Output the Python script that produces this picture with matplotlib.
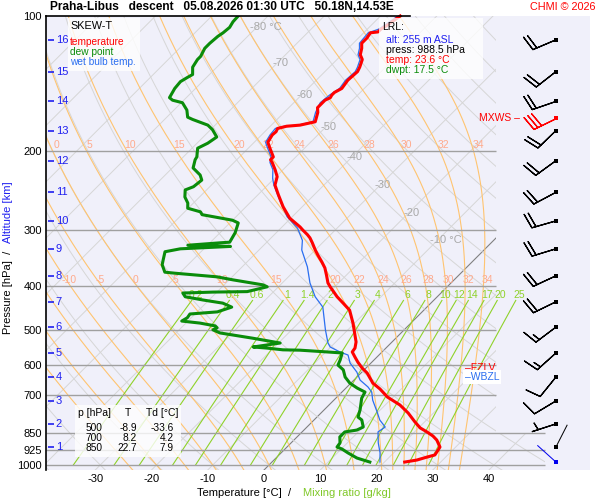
import numpy as np
import matplotlib

matplotlib.use("Agg")
import matplotlib.pyplot as plt
from matplotlib.patches import Polygon, Rectangle
from matplotlib.ticker import NullLocator

plt.rcParams["font.family"] = ["Liberation Sans", "DejaVu Sans"]

# ---------------------------------------------------------------- data
TEMP_P = [985, 975, 960, 950, 926, 912, 880, 862, 844, 827, 802, 766, 735, 706,
          677, 657, 624, 608, 590, 575, 560, 549, 532, 500, 483, 452, 436, 422,
          401, 393, 378, 364, 353, 341, 332, 320, 312, 307, 300, 295, 282, 266,
          250, 238, 228, 220, 212, 209, 206, 196, 191, 184, 181, 178, 176, 175,
          172, 164, 160, 156, 154, 152, 150, 148, 145, 139, 133, 130, 125, 122,
          118, 115, 112, 109, 108.5, 107, 105, 100]
TEMP_T = [23.6, 25.4, 26.7, 27.7, 27.4, 27.2, 25.4, 24.0, 22.2, 20.3, 18.3, 15.5,
          12.6, 9.0, 6.2, 3.9, 1.1, -0.7, -2.5, -3.9, -5.3, -5.5, -6.4, -8.9,
          -10.3, -13.2, -15.6, -17.8, -20.8, -21.9, -23.5, -25.1, -26.7, -28.6,
          -30.0, -31.8, -33.1, -34.1, -35.7, -36.8, -40.2, -43.4, -46.4, -48.7,
          -49.8, -51.4, -53.2, -54.0, -54.0, -56.4, -57.6, -58.1, -58.0, -58.3,
          -57.1, -54.9, -52.8, -54.0, -54.9, -54.9, -54.9, -54.4, -54.6, -54.6,
          -54.0, -54.4, -54.2, -54.6, -55.5, -56.7, -57.6, -58.5, -58.5, -58.8,
          -57.6, -57.6, -57.2, -56.5]

DEW_P = [985, 965, 940, 921, 912, 893, 866, 844, 836, 823, 794, 782, 754, 710,
         688, 674, 657, 637, 614, 599, 584, 563, 560, 555, 554, 549, 546, 535,
         522, 508, 500, 495, 490, 483, 478, 470, 461, 456, 445, 436, 429, 422,
         414, 412, 411, 401, 397, 387, 381, 374, 372, 358, 349, 335, 330, 327,
         326, 324, 320, 319, 304, 289, 285, 277, 273, 268, 261, 253, 244, 240,
         232, 226, 218, 209, 206, 197, 192, 186, 179, 175, 170, 168, 162, 156,
         154, 152, 145, 140, 137, 135, 130, 125, 123, 118, 115, 111, 109, 106,
         103, 100]
DEW_T = [17.4, 14.4, 11.9, 10.1, 8.9, 8.7, 7.6, 7.6, 9.4, 10.0, 8.5, 7.3, 6.4,
         4.6, 4.1, 2.0, -0.2, -2.1, -3.7, -5.5, -6.0, -6.9, -9.8, -14.9, -18.0,
         -21.2, -23.8, -19.7, -25.4, -32.2, -34.0, -33.6, -34.3, -37.5, -41.1,
         -40.7, -40.9, -36.4, -34.7, -37.0, -41.1, -44.8, -45.9, -40.7, -34.7,
         -32.0, -33.1, -39.3, -42.7, -50.8, -52.8, -54.6, -55.3, -56.4, -54.2,
         -47.8, -45.7, -53.5, -48.2, -46.6, -47.3, -48.5, -50.0, -56.4, -57.2,
         -60.1, -61.0, -62.6, -63.8, -62.9, -62.6, -63.8, -66.3, -67.4, -67.6,
         -69.0, -68.1, -67.6, -69.7, -71.3, -75.0, -76.3, -77.7, -79.8, -82.0,
         -83.0, -83.7, -83.9, -83.4, -83.0, -84.3, -84.8, -84.8, -85.5, -85.5,
         -85.3, -85.0, -84.8, -85.2, -85.3]

WB_P = [985, 940, 893, 844, 823, 794, 762, 717, 688, 670, 647, 621, 593, 569,
        560, 546, 535, 500, 445, 422, 393, 362, 332, 316, 297, 280, 257, 238,
        230, 220, 212, 206, 196, 191, 184, 178, 176, 175, 172, 164, 156, 150,
        145, 139, 133, 130, 125, 122, 118, 115, 109, 107, 100]
WB_T = [19.2, 17.6, 15.5, 13.5, 13.9, 11.7, 9.8, 6.9, 5.3, 3.7, 1.1, -0.9, -3.7,
        -5.5, -7.5, -10.1, -11.2, -14.0, -18.5, -21.7, -25.1, -28.4, -32.4,
        -34.0, -37.0, -40.9, -45.2, -48.9, -50.3, -51.8, -53.6, -54.4, -56.8,
        -58.0, -58.5, -58.7, -57.5, -55.3, -53.2, -54.4, -55.3, -55.0, -54.4,
        -54.8, -54.6, -55.0, -55.9, -57.1, -58.0, -58.9, -59.2, -58.0, -56.9]

ALT_KM = list(range(1, 17))
ALT_P = [912, 810, 720, 637, 563, 493, 433, 379, 330, 286, 247, 210, 180, 155,
         133, 113]

WIND_P = [113, 133, 155, 180, 210, 247, 286, 330, 379, 433, 493, 563, 637, 720, 810]
WIND_DIR = [247, 232, 251, 226, 234, 242, 254, 253, 245, 244, 233, 228, 219, 239, 252]
WIND_KT = [20, 20, 20, 20, 20, 20, 20, 20, 20, 20, 15, 15, 10, 10, 5]
MXWS_P, MXWS_DIR, MXWS_KT = [169], [244], [30]
CALM_P, CALM_DIR = [912], [27]
SFC_P, SFC_DIR = [985], [312]

TABLE_P = [500, 700, 850]
TABLE_T = [-8.9, 8.2, 22.7]
TABLE_TD = [-33.6, 4.2, 7.9]

PRESS_TICKS = [100, 200, 300, 400, 500, 600, 700, 850, 925, 1000]
TEMP_TICKS = [-30, -20, -10, 0, 10, 20, 30, 40]
ISO_LABELS = [-80, -70, -60, -50, -40, -30, -20, -10]
ISO_LABEL_P = [105.8, 127, 150, 177, 206, 238, 274, 316]
MOIST_TW = [-25, -20, -15, -10, -5, 0, 5, 10, 15, 20, 22, 24, 26, 28, 30, 32, 34]
MIX_W = [0.2, 0.4, 0.6, 1, 1.4, 2, 3, 4, 6, 8, 10, 12, 14, 17, 20, 25]

FZLV_P, WBZL_P = 608, 637

# ---------------------------------------------------------------- geometry
P_BOT = 1026.0
SKEW = 449 / 5.625          # 45 degree isotherms
X_LEFT, X_RIGHT = -218 / 5.625, 326 / 5.625
X_CLIP_HI, X_CLIP_LO = 41.24, 50.0
BARB_X = 51.9

RD, CP, LV, EPS = 287.04, 1005.7, 2.501e6, 0.622


def skew_x(t, p):
    return np.asarray(t, float) + SKEW * np.log10(P_BOT / np.asarray(p, float))


def sat_vp(tk):
    tc = tk - 273.15
    return 6.112 * np.exp(17.67 * tc / (tc + 243.5))


def moist_lapse(tk, p):
    e = sat_vp(tk)
    rs = EPS * e / (p - e)
    return (RD * tk + LV * rs) / (CP + LV ** 2 * rs * EPS / (RD * tk ** 2))


def moist_adiabats(tw, pres):
    t = np.asarray(tw, float) + 273.15
    out = [t.copy()]
    lnp = np.log(pres)
    for i in range(1, len(pres)):
        h = lnp[i] - lnp[i - 1]
        k1 = moist_lapse(t, pres[i - 1])
        k2 = moist_lapse(t + h * k1, pres[i])
        t = t + 0.5 * h * (k1 + k2)
        out.append(t.copy())
    return np.array(out).T - 273.15


def mixing_td(w, p):
    e = w * p / (622.0 + w)
    lg = np.log(e / 6.112)
    return 243.5 * lg / (17.67 - lg)


def fig_text(x, y, s, **kw):
    return fig.text(x / 600, 1 - y / 500, s, **kw)


# ---------------------------------------------------------------- figure
fig = plt.figure(figsize=(6, 5), dpi=100)
fig.patch.set_facecolor("white")
ax = fig.add_axes([46 / 600, 30 / 500, 544 / 600, 454 / 500])
ax.set_facecolor("#f0f0fa")
ax.set_yscale("log")
ax.set_xlim(X_LEFT, X_RIGHT)
ax.set_ylim(P_BOT, 100)

clip = Polygon([(X_LEFT, P_BOT), (X_CLIP_LO, P_BOT), (X_CLIP_LO, 850),
                (X_CLIP_HI, 850), (X_CLIP_HI, 100), (X_LEFT, 100)],
               closed=True, transform=ax.transData)

p_line = np.geomspace(100, P_BOT, 200)

# isotherms
for t in range(-120, 60, 10):
    ln, = ax.plot(skew_x(t, p_line), p_line,
                  color="#808080" if t == 0 else "#d6d6d6",
                  lw=0.8 if t == 0 else 0.7, zorder=1)
    ln.set_clip_path(clip)

# dry adiabats
for theta in range(-40, 220, 10):
    tk = (theta + 273.15) * (p_line / 1000.0) ** (RD / CP) - 273.15
    ln, = ax.plot(skew_x(tk, p_line), p_line, color="#d6d6d6", lw=0.7, zorder=1)
    ln.set_clip_path(clip)

# moist adiabats
p_up = np.geomspace(1000, 100, 400)
p_dn = np.geomspace(1000, P_BOT, 10)
t_up = moist_adiabats(MOIST_TW, p_up)
t_dn = moist_adiabats(MOIST_TW, p_dn)
for i, tw in enumerate(MOIST_TW):
    pp = np.concatenate([p_dn[::-1], p_up[1:]])
    tt = np.concatenate([t_dn[i][::-1], t_up[i][1:]])
    xx = skew_x(tt, pp)
    ln, = ax.plot(xx, pp, color="#ffc470", lw=0.8, zorder=1.5)
    ln.set_clip_path(clip)
    if tw >= -10:
        for plab, dx in ((387, 0.6), (194, 1.1)):
            xl = np.interp(np.log(plab), np.log(pp[::-1]), xx[::-1]) + dx
            if X_LEFT + 1.5 < xl < X_CLIP_HI:
                ax.text(xl, plab, f"{tw}", color="#ffaa8c", fontsize=7.5,
                        ha="center", va="center", zorder=2)

# mixing ratio lines
p_mix = np.geomspace(430, 1000, 50)
for w in MIX_W:
    ax.plot(skew_x(mixing_td(w, p_mix), p_mix), p_mix, color="#8fd22a",
            lw=0.8, zorder=1.6)
    xl = skew_x(mixing_td(w, 418.0), 418.0)
    ax.text(xl, 418, f"{w:g}", color="#8fd22a", fontsize=7.5,
            ha="center", va="center", zorder=2)

# isobars
ax.hlines([200, 300, 400, 500, 600, 700], X_LEFT, X_CLIP_HI, color="#a0a0a0",
          lw=1, zorder=1.8)
ax.hlines([850, 925, 1000], X_LEFT, X_CLIP_LO, color="#a0a0a0", lw=1, zorder=1.8)

# isotherm labels
for t, p in zip(ISO_LABELS, ISO_LABEL_P):
    xl = skew_x(t, p)
    if t in (-80, -10):
        ax.annotate(f"{t} °C", (xl, p), xytext=(-5, 0), textcoords="offset points",
                    color="#a8a8a8", fontsize=8, ha="left", va="center", zorder=2)
    else:
        ax.text(xl + 0.5, p, f"{t}", color="#a8a8a8", fontsize=8,
                ha="center", va="center", zorder=2)

# profiles
ax.plot(skew_x(WB_T, WB_P), WB_P, color="#2a6ef0", lw=0.9, zorder=3)
ax.plot(skew_x(DEW_T, DEW_P), DEW_P, color="#0a8c0a", lw=2.2, zorder=3.1,
        solid_joinstyle="round")
ax.plot(skew_x(TEMP_T, TEMP_P), TEMP_P, color="#ff0000", lw=2.2, zorder=3.2,
        solid_joinstyle="round", clip_on=False)

# winds
def uv(spd, dirs):
    r = np.deg2rad(dirs)
    return -np.asarray(spd) * np.sin(r), -np.asarray(spd) * np.cos(r)


barb_sizes = dict(height=0.6, spacing=0.17, width=0.3)
u, v = uv(WIND_KT, WIND_DIR)
ax.barbs(np.full(len(WIND_P), BARB_X), WIND_P, u, v, length=6, pivot="tip",
         color="k", linewidth=0.9, sizes=barb_sizes, zorder=4)
u, v = uv(MXWS_KT, MXWS_DIR)
ax.barbs([BARB_X], MXWS_P, u, v, length=6, pivot="tip", color="red",
         linewidth=0.9, sizes=barb_sizes, zorder=4)
for plist, dirs, col in ((CALM_P, CALM_DIR, "k"), (SFC_P, SFC_DIR, "#0000ee")):
    r = np.deg2rad(dirs)
    ax.quiver(np.full(len(plist), BARB_X), plist, np.sin(r), np.cos(r),
              pivot="tail", scale_units="inches", scale=4, units="dots",
              width=1.0, headwidth=0, headlength=0, headaxislength=0,
              color=col, zorder=4)
ax.scatter(np.full(len(WIND_P) + len(CALM_P), BARB_X), WIND_P + CALM_P,
           marker="s", s=6, color="k", zorder=5, linewidths=0)
ax.scatter([BARB_X], MXWS_P, marker="s", s=6, color="red", zorder=5, linewidths=0)
ax.scatter([BARB_X], SFC_P, marker="s", s=6, color="#0000ee", zorder=5, linewidths=0)
ax.text(45.5, MXWS_P[0], "MXWS –", color="red", fontsize=7.5, ha="right",
        va="center", zorder=5)

# freezing / wet-bulb zero level
ax.text(35.7, FZLV_P, "–FZLV", color="red", fontsize=7.5, ha="left",
        va="center", zorder=5)
ax.text(35.7, WBZL_P, "–WBZL", color="#2a6ef0", fontsize=7.5, ha="left",
        va="center", zorder=6,
        bbox=dict(boxstyle="square,pad=0.15", fc="white", ec="none"))

# altitude scale
yax = ax.get_yaxis_transform()
ax.hlines(ALT_P, 0.004, 0.015, transform=yax, color="#2020f0", lw=1.2, zorder=5)
for km, p in zip(ALT_KM, ALT_P):
    ax.text(0.018, p, str(km), transform=yax, color="#2020f0", fontsize=8,
            ha="left", va="center", zorder=5)

# axes / ticks
for side in ("top", "right", "bottom"):
    ax.spines[side].set_visible(False)
ax.spines["left"].set_linewidth(1.2)
ax.plot([X_LEFT, 25.96], [100, 100], color="k", lw=1.2, clip_on=False, zorder=6)
ax.set_yticks(PRESS_TICKS)
ax.set_yticklabels([str(p) for p in PRESS_TICKS])
ax.yaxis.set_minor_locator(NullLocator())
ax.set_xticks(TEMP_TICKS)
ax.set_xticklabels([str(t) for t in TEMP_TICKS])
ax.tick_params(axis="both", length=0, labelsize=8)
ax.tick_params(axis="y", pad=3)
ax.tick_params(axis="x", pad=3)

# boxes
fig.add_artist(Rectangle((68 / 600, 1 - 71 / 500), 72 / 600, 53 / 500,
                         transform=fig.transFigure, fc="white", ec="none",
                         alpha=0.8, zorder=7))
fig_text(70, 26, "SKEW-T", fontsize=7.8, va="center", zorder=8)
fig_text(70, 42, "temperature", color="red", fontsize=7.3, va="center", zorder=8)
fig_text(70, 52, "dew point", color="#0a8c0a", fontsize=7.3, va="center", zorder=8)
fig_text(70, 62, "wet bulb temp.", color="#2a6ef0", fontsize=7.3, va="center",
         zorder=8)

fig.add_artist(Rectangle((379 / 600, 1 - 79 / 500), 104 / 600, 61 / 500,
                         transform=fig.transFigure, fc="white", ec="none",
                         alpha=0.78, zorder=7))
fig_text(382, 27, "LRL:", fontsize=7.5, va="center", zorder=8)
fig_text(386, 40, "alt: 255 m ASL", color="#2020f0", fontsize=7.5, va="center",
         zorder=8)
fig_text(386, 50, "press: 988.5 hPa", fontsize=7.5, va="center", zorder=8)
fig_text(386, 60, "temp: 23.6 °C", color="red", fontsize=7.5, va="center", zorder=8)
fig_text(386, 70, "dwpt: 17.5 °C", color="#0a8c0a", fontsize=7.5, va="center",
         zorder=8)

fig.add_artist(Rectangle((75 / 600, 1 - 457 / 500), 106 / 600, 52 / 500,
                         transform=fig.transFigure, fc="white", ec="none",
                         alpha=0.8, zorder=7))
fig_text(78, 413, "p [hPa]", fontsize=7.5, va="center", zorder=8)
fig_text(128, 413, "T", fontsize=7.5, va="center", ha="center", zorder=8)
fig_text(146, 413, "Td [°C]", fontsize=7.5, va="center", zorder=8)
for i, (p, t, td) in enumerate(zip(TABLE_P, TABLE_T, TABLE_TD)):
    y = 428 + 10 * i
    fig_text(102, y, f"{p}", fontsize=7.3, va="center", ha="right", zorder=8)
    fig_text(137, y, f"{t:.1f}", fontsize=7.3, va="center", ha="right", zorder=8)
    fig_text(174, y, f"{td:.1f}", fontsize=7.3, va="center", ha="right", zorder=8)

# titles and axis labels
fig_text(50, 7, "Praha-Libus   descent   05.08.2026 01:30 UTC   50.18N,14.53E",
         fontsize=8.6, fontweight="bold", va="center")
fig_text(596, 7, "CHMI © 2026", color="red", fontsize=7.8, va="center", ha="right")
fig_text(197, 493, "Temperature [°C]  /", fontsize=8, va="center")
fig_text(303, 493, "Mixing ratio [g/kg]", color="#80c828", fontsize=8, va="center")
fig_text(8, 292, "Pressure [hPa]  /", fontsize=8, rotation=90, ha="center",
         va="center")
fig_text(8, 212, "Altitude [km]", color="#2020f0", fontsize=8, rotation=90,
         ha="center", va="center")

fig.savefig("out.png", dpi=100)
